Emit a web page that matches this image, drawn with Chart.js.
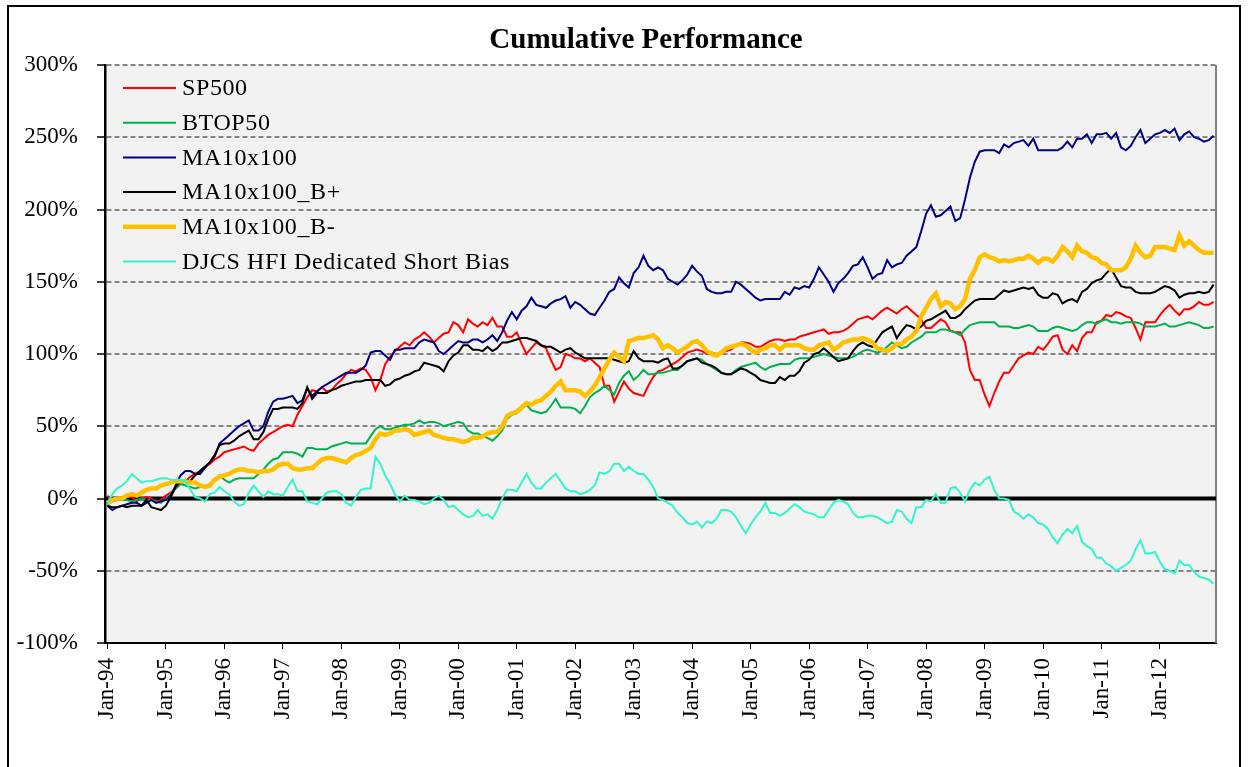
<!DOCTYPE html>
<html>
<head>
<meta charset="utf-8">
<title>Cumulative Performance</title>
<script src="https://cdn.jsdelivr.net/npm/chart.js@4.4.0/dist/chart.umd.min.js"></script>
<style>
  html, body { margin: 0; padding: 0; background: #fff; overflow: hidden; }
  #wrap { position: relative; width: 1248px; height: 767px; }
  #frame { position: absolute; left: 7px; top: 5px; width: 1234px; height: 800px; border: 2px solid #000; box-sizing: border-box; }
  #mycanvas { position: absolute; left: 0; top: 0; }
</style>
</head>
<body>
<div id="wrap">
  <div id="frame"></div>
  <canvas id="mycanvas" width="1248" height="767"></canvas>
</div>
<script>
var chartTitle = 'Cumulative Performance';
var monthNames = ['Jan','Feb','Mar','Apr','May','Jun','Jul','Aug','Sep','Oct','Nov','Dec'];
var years = [1994,1995,1996,1997,1998,1999,2000,2001,2002,2003,2004,2005,2006,2007,2008,2009,2010,2011,2012];

var seriesNames = ['SP500', 'BTOP50', 'MA10x100', 'MA10x100_B+', 'MA10x100_B-', 'DJCS HFI Dedicated Short Bias'];
var yMin = -100, yMax = 300, yStep = 50;

// cumulative performance in %, one value per month Jan-94 .. Dec-12
var sp500 = [
  2,-2,0,0,1,1,-2,0,1,0,-2,-1,
  2,4,7,10,12,15,17,19,22,24,27,29,
  32,33,34,35,36,34,33,38,41,44,46,48,
  50,51,50,58,64,70,75,74,77,74,75,79,
  82,86,89,88,90,89,84,75,82,93,98,102,
  105,108,106,110,112,115,112,108,111,114,115,122,
  120,115,124,121,119,122,120,125,119,119,112,112,
  115,107,100,104,108,106,104,96,89,91,100,99,
  97,97,95,97,94,91,78,78,67,74,81,76,
  73,72,71,78,84,88,89,91,93,95,98,101,
  102,103,102,100,101,100,101,102,103,106,108,108,
  107,105,105,107,109,110,110,109,110,110,112,113,
  114,115,116,117,114,115,115,116,118,121,124,125,
  126,124,127,130,132,130,128,131,133,130,127,124,
  118,118,121,124,122,116,115,115,108,89,82,82,
  72,64,73,81,87,87,92,97,99,101,100,105,
  103,107,112,113,103,100,106,102,111,115,115,122,
  123,127,126,129,128,126,125,118,110,122,122,122,
  127,131,134,130,127,131,131,133,136,134,134,136
];
var btop50 = [
  -4,-2,-1,-1,-1,-2,-1,0,-1,-1,-2,-3,
  0,3,7,10,9,8,7,8,8,10,13,16,
  13,11,13,14,14,14,14,17,20,24,27,28,
  32,32,32,31,29,35,35,34,34,34,36,37,
  38,39,38,38,38,38,43,48,50,48,48,49,
  50,51,51,52,54,52,53,53,52,50,51,52,
  53,52,47,45,45,43,42,40,43,47,55,58,
  59,62,65,61,60,59,60,64,69,63,63,63,
  62,59,64,70,73,75,78,75,72,80,85,88,
  82,85,89,86,86,87,87,88,89,89,92,95,
  96,97,96,93,91,89,87,86,86,89,91,92,
  93,94,91,89,91,92,93,93,93,96,97,97,
  97,98,99,100,99,98,97,97,97,98,100,102,
  103,102,101,102,105,108,106,104,105,108,110,112,
  115,115,115,117,117,116,115,113,117,120,121,122,
  122,122,122,119,119,119,118,118,119,120,119,116,
  116,116,118,119,118,117,116,117,120,122,122,121,
  123,124,122,122,121,122,122,122,121,119,119,119,
  120,121,119,119,120,121,122,121,120,118,118,119
];
var ma10x100 = [
  -5,-8,-6,-5,-4,-3,-3,-5,-3,-1,-3,-2,
  -1,2,9,16,19,19,17,17,21,25,29,38,
  41,44,47,50,52,54,47,47,50,60,67,69,
  69,70,71,66,68,76,71,74,77,79,81,83,
  85,87,87,87,89,92,101,102,102,99,96,103,
  103,104,104,104,108,110,109,108,102,100,103,106,
  109,108,108,110,110,108,110,113,109,115,123,129,
  124,130,133,139,134,133,132,135,137,138,140,132,
  136,134,131,128,127,132,137,143,145,153,149,146,
  156,160,168,161,158,160,158,152,150,148,151,155,
  161,157,154,145,143,142,142,143,143,150,148,145,
  142,139,137,138,138,138,138,143,141,146,145,147,
  146,152,160,155,150,143,149,152,156,161,162,167,
  160,152,155,156,165,160,162,163,168,171,174,185,
  197,203,195,196,199,202,192,194,207,222,233,240,
  241,241,241,239,245,243,246,247,248,244,249,241,
  241,241,241,241,243,247,243,249,249,252,246,252,
  252,253,249,253,243,241,244,250,255,246,249,252,
  253,255,253,256,248,252,254,250,249,247,248,251
];
var ma10x100BPlus = [
  -5,-6,-6,-5,-6,-5,-5,-5,-1,-6,-7,-8,
  -5,1,8,12,13,12,16,19,22,25,30,37,
  38,38,40,43,45,47,41,41,46,55,62,62,
  63,63,63,62,66,77,69,73,73,73,75,76,
  78,79,80,81,81,82,82,82,82,78,79,82,
  83,85,86,88,89,94,93,92,91,88,95,99,
  101,106,106,103,103,102,105,102,104,108,108,109,
  110,111,111,110,109,106,105,105,103,101,103,104,
  101,99,97,97,97,97,97,97,96,95,94,95,
  102,97,95,95,95,94,96,97,90,90,92,95,
  96,97,94,93,92,90,87,86,86,88,90,89,
  87,85,82,81,80,80,84,82,85,85,88,94,
  96,100,101,104,101,98,95,96,97,102,106,108,
  106,105,110,115,117,119,111,116,120,119,117,119,
  123,124,126,128,130,125,125,127,131,134,137,138,
  138,138,138,141,144,143,144,145,146,145,146,141,
  139,139,142,141,135,137,138,136,143,145,149,151,
  152,156,159,153,147,146,146,143,142,142,142,143,
  145,147,146,144,139,141,142,142,143,142,143,148
];
var ma10x100BMinus = [
  -3,-1,0,0,2,3,2,4,6,7,7,9,
  10,11,12,12,12,11,11,9,8,9,13,15,
  16,17,19,20,20,19,19,18,19,19,20,23,
  24,24,21,20,20,21,21,24,27,28,28,27,
  26,25,28,30,31,33,35,41,45,44,45,47,
  47,48,47,44,45,46,47,44,43,42,41,41,
  40,39,40,42,42,43,45,46,46,50,57,59,
  60,63,66,65,67,68,71,74,78,81,75,75,
  75,74,71,74,78,84,90,96,101,98,95,109,
  110,111,111,112,113,110,104,106,104,101,103,105,
  108,109,106,102,100,99,101,104,105,106,107,106,
  103,101,103,104,106,106,103,106,106,106,106,104,
  103,103,106,107,108,103,105,108,109,110,110,111,
  110,108,104,103,102,104,107,107,110,112,116,126,
  132,138,142,133,136,135,131,133,138,152,158,167,
  169,167,166,164,165,164,165,166,166,168,166,163,
  166,166,164,168,174,171,167,175,171,170,167,166,
  163,162,158,158,158,160,166,175,170,167,168,174,
  174,174,173,172,182,175,178,175,172,170,170,170
];
var djcsShortBias = [
  -3,3,7,9,12,17,14,11,12,12,13,14,
  14,13,13,13,12,6,1,0,-2,3,4,8,
  5,3,-2,-5,-4,4,9,5,1,5,3,3,
  2,8,13,5,5,-2,-3,-4,0,4,5,5,
  3,-3,-5,1,6,7,7,29,24,16,10,3,
  -2,2,-1,-1,-2,-4,-3,0,2,-1,-6,-5,
  -8,-11,-13,-12,-8,-12,-11,-14,-8,0,6,6,
  5,11,17,11,7,7,11,14,17,12,7,5,
  5,3,4,6,9,18,17,19,24,24,19,22,
  19,17,17,13,8,0,-1,-3,-5,-10,-13,-17,
  -18,-16,-20,-16,-17,-14,-8,-8,-9,-13,-19,-24,
  -18,-13,-9,-3,-10,-10,-12,-10,-7,-4,-6,-9,
  -10,-11,-13,-13,-8,-3,-1,-2,-4,-10,-13,-13,
  -12,-12,-13,-15,-17,-16,-8,-9,-14,-17,-6,-6,
  -1,-2,3,-3,-3,7,8,4,-2,6,11,9,
  13,15,6,0,0,-1,-9,-11,-14,-11,-13,-17,
  -18,-21,-27,-31,-25,-21,-24,-19,-30,-33,-35,-41,
  -41,-45,-47,-50,-48,-46,-43,-35,-29,-38,-38,-37,
  -44,-49,-50,-52,-43,-46,-46,-51,-54,-55,-56,-59
];

var labels = [];
for (var yi = 0; yi < years.length; yi++) {
  for (var mi = 0; mi < 12; mi++) {
    labels.push(monthNames[mi] + '-' + String(years[yi]).slice(2));
  }
}

var serif = '"Liberation Serif", "Times New Roman", serif';
var colors = ['#ff0000', '#00b050', '#000080', '#000000', '#ffc000', '#33f5cc'];
var widths = [2, 2, 2, 2, 4.5, 2];
var values = [sp500, btop50, ma10x100, ma10x100BPlus, ma10x100BMinus, djcsShortBias];

var datasets = [];
for (var i = 0; i < seriesNames.length; i++) {
  datasets.push({
    label: seriesNames[i],
    data: values[i],
    borderColor: colors[i],
    backgroundColor: colors[i],
    borderWidth: widths[i],
    pointRadius: 0,
    tension: 0,
    fill: false,
    order: seriesNames.length - i
  });
}

var plotExtras = {
  id: 'plotExtras',
  beforeDraw: function(chart) {
    var a = chart.chartArea, ctx = chart.ctx;
    ctx.save();
    ctx.fillStyle = '#f2f2f2';
    ctx.fillRect(a.left, a.top, a.right - a.left, a.bottom - a.top);
    // title, centred like the original sheet chart
    ctx.fillStyle = '#000';
    ctx.font = 'bold 29px ' + serif;
    ctx.textAlign = 'center';
    ctx.textBaseline = 'middle';
    ctx.fillText(chartTitle, 646, 41);
    ctx.restore();
  },
  beforeDatasetsDraw: function(chart) {
    var a = chart.chartArea, ctx = chart.ctx;
    var y0 = chart.scales.y.getPixelForValue(0);
    ctx.save();
    ctx.strokeStyle = '#808080';
    ctx.lineWidth = 2;
    ctx.beginPath();
    ctx.moveTo(a.right, a.top);
    ctx.lineTo(a.right, a.bottom);
    ctx.stroke();
    ctx.strokeStyle = '#000';
    ctx.lineWidth = 4;
    ctx.beginPath();
    ctx.moveTo(a.left, y0);
    ctx.lineTo(a.right, y0);
    ctx.stroke();
    ctx.restore();
  },
  afterDatasetsDraw: function(chart) {
    // legend sits inside the plot, top left
    var a = chart.chartArea, ctx = chart.ctx;
    var ds = chart.data.datasets;
    ctx.save();
    ctx.font = '24px ' + serif;
    ctx.letterSpacing = '0.6px';
    ctx.textBaseline = 'middle';
    ctx.fillStyle = '#000';
    for (var k = 0; k < ds.length; k++) {
      var yy = a.top + 23 + k * 34.7;
      ctx.strokeStyle = ds[k].borderColor;
      ctx.lineWidth = ds[k].borderWidth;
      ctx.beginPath();
      ctx.moveTo(a.left + 18, yy);
      ctx.lineTo(a.left + 71, yy);
      ctx.stroke();
      ctx.fillText(ds[k].label, a.left + 77, yy + 1);
    }
    ctx.restore();
  }
};

var ctx = document.getElementById('mycanvas');

var perfChart = new Chart(ctx, {
  type: 'line',
  data: { labels: labels, datasets: datasets },
  plugins: [plotExtras],
  options: {
    responsive: false,
    animation: false,
    events: [],
    layout: { padding: { left: 10, right: 32, top: 65, bottom: 0 } },
    plugins: {
      legend: { display: false },
      tooltip: { enabled: false },
      title: { display: false }
    },
    scales: {
      x: {
        offset: true,
        afterFit: function(s) { s.height = 124; },
        ticks: {
          autoSkip: false,
          minRotation: 90,
          maxRotation: 90,
          padding: 9,
          color: '#000',
          font: { family: serif, size: 23 },
          callback: function(val, idx) {
            return idx % 12 === 0 ? this.getLabelForValue(val) : null;
          }
        },
        grid: { drawOnChartArea: false, tickColor: '#000', tickLength: 6, tickWidth: 1 },
        border: { color: '#000', width: 2 }
      },
      y: {
        min: yMin,
        max: yMax,
        afterFit: function(s) { s.width = 95; },
        ticks: {
          stepSize: yStep,
          padding: 19,
          color: '#000',
          font: { family: serif, size: 23 },
          callback: function(v) { return v + '%'; }
        },
        grid: {
          color: function(c) { return c.tick && c.tick.value === 0 ? 'rgba(0,0,0,0)' : '#858585'; },
          lineWidth: 2,
          tickColor: '#000',
          tickLength: 8,
          tickWidth: 1.5,
          tickBorderDash: []
        },
        border: { color: '#000', width: 2.5, dash: [5, 3] }
      }
    }
  }
});
</script>
</body>
</html>
